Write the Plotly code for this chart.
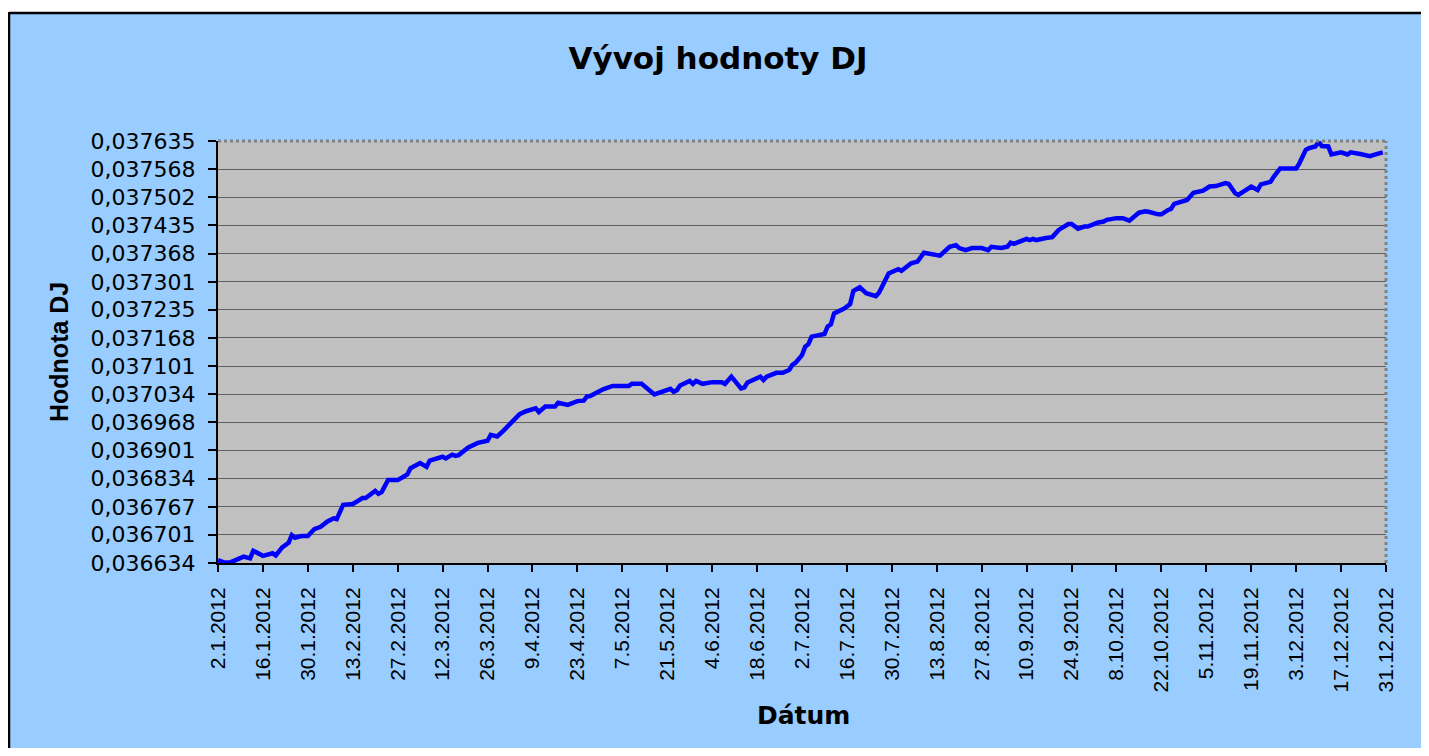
import pandas as pd
import plotly.graph_objects as go

# ---------------- data ----------------
start_date = "2012-01-02"
# days elapsed since 2.1.2012
day_offsets = [0, 2, 4, 8, 10, 11, 14, 15, 17, 18, 20, 22, 23, 24, 26, 28, 30, 32, 34, 36,
               37, 39, 42, 44, 45, 46, 49, 50, 51, 53, 56, 57, 59, 60, 63, 65, 66, 70, 71, 73,
               74, 75, 78, 81, 84, 85, 87, 89, 91, 92, 94, 96, 99, 100, 102, 105, 106, 109, 112, 114,
               115, 116, 120, 123, 128, 129, 132, 136, 141, 142, 143, 144, 147, 148, 149, 151, 154, 157, 158, 160,
               163, 164, 165, 169, 170, 171, 174, 176, 178, 179, 180, 182, 183, 184, 185, 189, 190, 191, 192, 195,
               197, 198, 200, 202, 205, 206, 207, 209, 212, 213, 216, 218, 220, 225, 228, 230, 231, 233, 235, 238,
               240, 241, 244, 246, 247, 248, 252, 253, 254, 255, 258, 260, 262, 265, 266, 268, 270, 271, 273, 274,
               276, 277, 280, 282, 284, 287, 289, 290, 293, 294, 296, 297, 298, 300, 302, 304, 307, 309, 311, 314,
               315, 317, 318, 322, 324, 325, 328, 329, 331, 336, 337, 339, 340, 342, 343, 344, 346, 347, 350, 352,
               353, 356, 359, 361, 363]

dj_values = [0.036641, 0.036635, 0.036636, 0.036649, 0.036645, 0.036663, 0.036651, 0.036653, 0.036657, 0.036652,
             0.036671, 0.036682, 0.036700, 0.036694, 0.036698, 0.036698, 0.036714, 0.036720, 0.036732, 0.036740,
             0.036738, 0.036772, 0.036774, 0.036783, 0.036788, 0.036788, 0.036805, 0.036798, 0.036802, 0.036831,
             0.036831, 0.036835, 0.036844, 0.036859, 0.036871, 0.036862, 0.036877, 0.036886, 0.036882, 0.036891,
             0.036888, 0.036890, 0.036908, 0.036919, 0.036924, 0.036938, 0.036934, 0.036948, 0.036965, 0.036971,
             0.036987, 0.036994, 0.037001, 0.036992, 0.037005, 0.037005, 0.037014, 0.037009, 0.037018, 0.037019,
             0.037029, 0.037030, 0.037046, 0.037054, 0.037054, 0.037059, 0.037059, 0.037034, 0.037047, 0.037040,
             0.037044, 0.037055, 0.037066, 0.037059, 0.037066, 0.037059, 0.037063, 0.037063, 0.037059, 0.037076,
             0.037048, 0.037050, 0.037062, 0.037076, 0.037068, 0.037076, 0.037085, 0.037085, 0.037092, 0.037104,
             0.037109, 0.037127, 0.037147, 0.037153, 0.037171, 0.037177, 0.037195, 0.037200, 0.037226, 0.037237,
             0.037248, 0.037279, 0.037288, 0.037274, 0.037267, 0.037275, 0.037291, 0.037321, 0.037331, 0.037327,
             0.037345, 0.037349, 0.037370, 0.037363, 0.037384, 0.037388, 0.037381, 0.037376, 0.037381, 0.037381,
             0.037376, 0.037384, 0.037381, 0.037384, 0.037394, 0.037391, 0.037403, 0.037400, 0.037403, 0.037400,
             0.037405, 0.037407, 0.037424, 0.037438, 0.037438, 0.037427, 0.037432, 0.037432, 0.037438, 0.037441,
             0.037444, 0.037448, 0.037452, 0.037452, 0.037446, 0.037465, 0.037468, 0.037467, 0.037461, 0.037461,
             0.037471, 0.037474, 0.037486, 0.037490, 0.037495, 0.037512, 0.037517, 0.037527, 0.037528, 0.037535,
             0.037533, 0.037511, 0.037507, 0.037527, 0.037519, 0.037532, 0.037538, 0.037550, 0.037570, 0.037570,
             0.037582, 0.037614, 0.037618, 0.037622, 0.037633, 0.037623, 0.037622, 0.037603, 0.037608, 0.037603,
             0.037608, 0.037604, 0.037599, 0.037604, 0.037608]

x_tick_labels = ["2.1.2012", "16.1.2012", "30.1.2012", "13.2.2012", "27.2.2012", "12.3.2012",
                 "26.3.2012", "9.4.2012", "23.4.2012", "7.5.2012", "21.5.2012", "4.6.2012",
                 "18.6.2012", "2.7.2012", "16.7.2012", "30.7.2012", "13.8.2012", "27.8.2012",
                 "10.9.2012", "24.9.2012", "8.10.2012", "22.10.2012", "5.11.2012", "19.11.2012",
                 "3.12.2012", "17.12.2012", "31.12.2012"]

y_tick_labels = ["0,036634", "0,036701", "0,036767", "0,036834", "0,036901", "0,036968",
                 "0,037034", "0,037101", "0,037168", "0,037235", "0,037301", "0,037368",
                 "0,037435", "0,037502", "0,037568", "0,037635"]

title_text = "Vývoj hodnoty DJ"
x_title = "Dátum"
y_title = "Hodnota DJ"

# ---------------- derived ----------------
dates = pd.Timestamp(start_date) + pd.to_timedelta(day_offsets, unit="D")
x_tick_vals = [pd.to_datetime(t, format="%d.%m.%Y") for t in x_tick_labels]
y_tick_vals = [float(t.replace(",", ".")) for t in y_tick_labels]

# ---------------- layout geometry ----------------
W, H = 1413, 740
ML, MR, MT, MB = 210, 35, 133, 185
PW, PH = W - ML - MR, H - MT - MB


def px_x(fx):
    return (fx - ML) / PW


def px_y(fy):
    return (H - MB - fy) / PH


BG = "#99CCFF"
PLOT_BG = "#C0C0C0"

fig = go.Figure()
fig.add_trace(go.Scatter(
    x=dates, y=dj_values, mode="lines",
    line=dict(color="#0000FF", width=4.5),
    showlegend=False, hoverinfo="x+y",
))

fig.update_layout(
    width=W, height=H,
    margin=dict(l=ML, r=MR, t=MT, b=MB, pad=0),
    paper_bgcolor=BG,
    plot_bgcolor=PLOT_BG,
    title=dict(text=f"<b>{title_text}</b>", x=0.5025, xref="container", xanchor="center",
               y=0.932, yref="container", yanchor="middle",
               font=dict(family="DejaVu Sans", size=31, color="black")),
    showlegend=False,
    xaxis=dict(
        type="date",
        range=[x_tick_vals[0], x_tick_vals[-1]],
        tickmode="array", tickvals=x_tick_vals, ticktext=x_tick_labels,
        tickangle=-90,
        ticks="outside", ticklen=7, tickwidth=2, tickcolor="black",
        showline=True, linecolor="black", linewidth=2,
        showgrid=False, zeroline=False,
        tickfont=dict(family="Liberation Sans", size=21, color="black"),
        ticklabelstandoff=7,
    ),
    yaxis=dict(
        range=[y_tick_vals[0], y_tick_vals[-1]],
        tickmode="array", tickvals=y_tick_vals, ticktext=y_tick_labels,
        ticks="outside", ticklen=8, tickwidth=2, tickcolor="black",
        showline=True, linecolor="black", linewidth=2,
        showgrid=True, gridcolor="#606060", gridwidth=1,
        zeroline=False,
        tickfont=dict(family="DejaVu Sans", size=22, color="black"),
        ticklabelstandoff=8,
    ),
)

# axis titles
fig.add_annotation(text=f"<b>{y_title}</b>", textangle=-90, showarrow=False,
                   xref="paper", yref="paper", x=px_x(51), y=0.5,
                   xanchor="center", yanchor="middle",
                   font=dict(family="Liberation Sans", size=25, color="black"))
fig.add_annotation(text=f"<b>{x_title}</b>", showarrow=False,
                   xref="paper", yref="paper", x=px_x(795), y=px_y(707),
                   xanchor="center", yanchor="middle",
                   font=dict(family="DejaVu Sans", size=25, color="black"))

# dotted top and right plot border
fig.add_shape(type="line", xref="paper", yref="paper", x0=0, x1=1, y0=1, y1=1,
              line=dict(color="#808080", width=3, dash="dot"), layer="above")
fig.add_shape(type="line", xref="paper", yref="paper", x0=1, x1=1, y0=0, y1=1,
              line=dict(color="#808080", width=3, dash="dot"), layer="above")

# outer chart frame (white gap on top, black border left/top)
fig.add_shape(type="rect", xref="paper", yref="paper", x0=px_x(-20), x1=px_x(W + 20),
              y0=px_y(4), y1=px_y(-20), fillcolor="white", line=dict(width=0), layer="above")
fig.add_shape(type="line", xref="paper", yref="paper", x0=px_x(1), x1=px_x(W + 20),
              y0=px_y(5), y1=px_y(5), line=dict(color="black", width=2.5), layer="above")
fig.add_shape(type="line", xref="paper", yref="paper", x0=px_x(1), x1=px_x(1),
              y0=px_y(4), y1=px_y(H + 20), line=dict(color="black", width=2.5), layer="above")

fig.write_html("out.html")
